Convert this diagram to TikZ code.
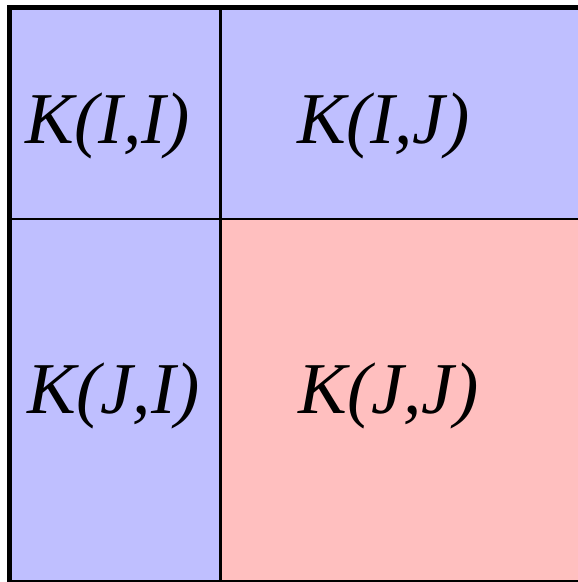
\documentclass[tikz,border=0pt]{standalone}
\usepackage{fontspec}
\setmainfont{Liberation Serif}
\definecolor{cellblue}{RGB}{191,191,255}
\definecolor{cellpink}{RGB}{255,191,191}
\tikzset{
  lbl/.style={inner sep=0pt, anchor=base, font=\fontsize{73}{80}\selectfont\itshape},
  thick border/.style={line width=5pt, draw=black},
  divider/.style={line width=2.8pt, draw=black}
}
\begin{document}
\begin{tikzpicture}[x=1pt,y=-1pt]
\useasboundingbox (0,0) rectangle (578,582);
\fill[white] (0,0) rectangle (578,582);
% cells
\fill[cellblue] (9.5,7.5) rectangle (220.5,219);
\fill[cellblue] (220.5,7.5) rectangle (600,219);
\fill[cellblue] (9.5,219) rectangle (220.5,590);
\fill[cellpink] (220.5,219) rectangle (600,590);
% dividers
\coordinate (vt) at (220.5,7.5);
\coordinate (vb) at (220.5,582.5);
\coordinate (hl) at (9.5,219);
\coordinate (hr) at (600,219);
\draw[divider] (vt) -- (vb);
\draw[divider] (hl) -- (hr);
% outer border
\coordinate (tl) at (9.5,7.5);
\coordinate (tr) at (600,7.5);
\coordinate (bl) at (9.5,582.5);
\coordinate (br) at (600,582.5);
\draw[thick border] (tr) -- (tl) -- (bl) -- (br);
% labels
\node[lbl] (kii) at (108,143) {K(I,I)};
\node[lbl] (kij) at (383.5,143) {K(I,J)};
\node[lbl] (kji) at (113.5,413) {K(J,I)};
\node[lbl] (kjj) at (388.5,413) {K(J,J)};
\end{tikzpicture}
\end{document}
